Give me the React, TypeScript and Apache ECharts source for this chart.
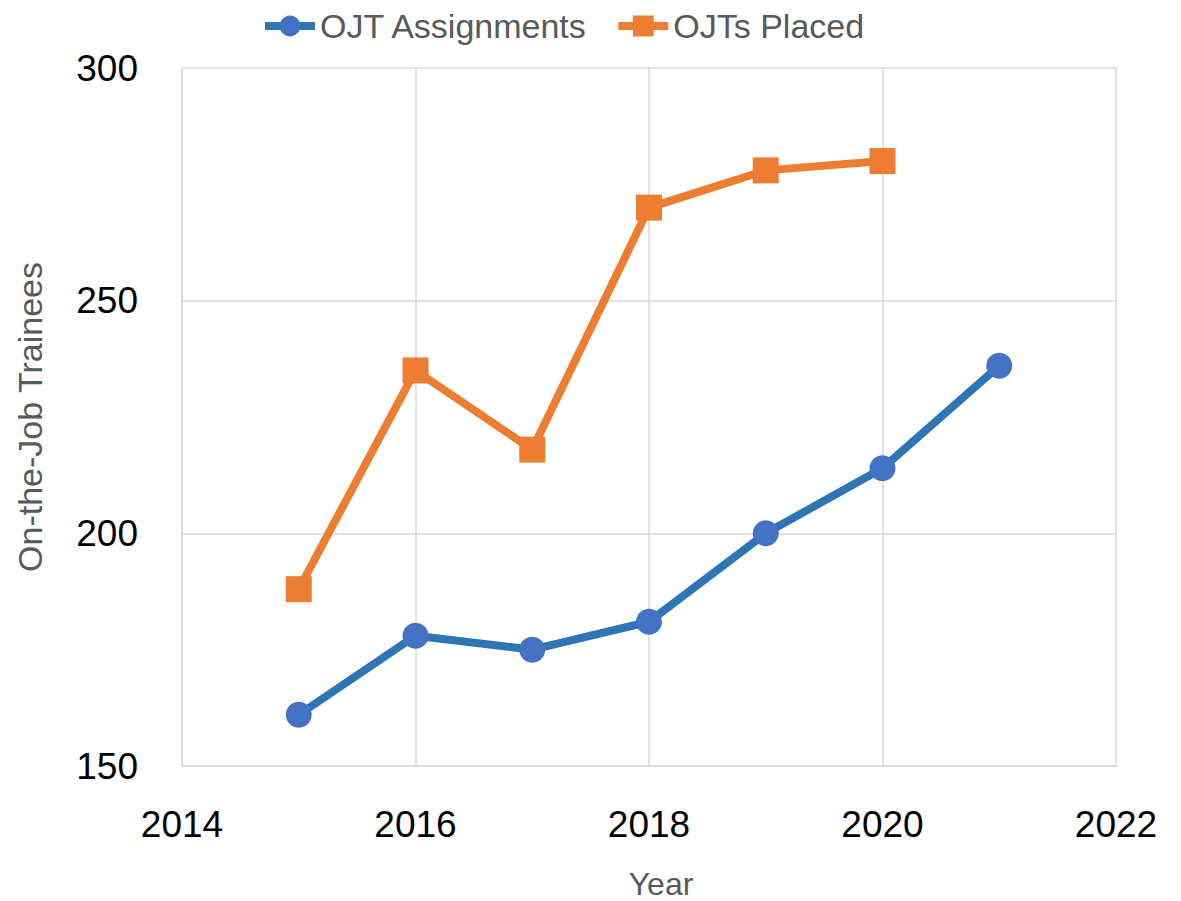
import React, { useEffect, useRef } from "react";
import * as echarts from "echarts";

const years = [2015, 2016, 2017, 2018, 2019, 2020, 2021];
const ojtAssignments = [161, 178, 175, 181, 200, 214, 236];
const ojtsPlaced = [188, 235, 218, 270, 278, 280];
const seriesNames = ["OJT Assignments", "OJTs Placed"];

const FONT = "Liberation Sans";

export default function App() {
  const ref = useRef<HTMLDivElement>(null);
  useEffect(() => {
    const chart = echarts.init(ref.current!, null, { renderer: "svg" });
    chart.setOption({
      animation: false,
      backgroundColor: "#ffffff",
      legend: {
        top: 4,
        left: 256,
        itemWidth: 50,
        itemHeight: 26,
        itemGap: 26,
        textStyle: { fontFamily: FONT, fontSize: 34, color: "#595959" },
        data: [
          { name: seriesNames[0], lineStyle: { width: 8 } },
          { name: seriesNames[1], lineStyle: { width: 8 } },
        ],
      },
      grid: { left: 182, right: 65, top: 68, bottom: 135, containLabel: false, outerBoundsMode: "none" },
      xAxis: {
        type: "value",
        min: 2014,
        max: 2022,
        interval: 2,
        name: "Year",
        nameLocation: "middle",
        nameGap: 102,
        nameTextStyle: { fontFamily: FONT, fontSize: 32, color: "#595959", padding: [0, 0, 0, 24] },
        axisLine: { show: true, lineStyle: { color: "#D9D9D9", width: 1.5 } },
        axisTick: { show: false },
        splitLine: { show: true, lineStyle: { color: "#D9D9D9", width: 1.5 } },
        axisLabel: {
          fontFamily: FONT,
          fontSize: 37,
          color: "#000000",
          margin: 40,
          formatter: (v: number) => String(v),
        },
      },
      yAxis: {
        type: "value",
        min: 150,
        max: 300,
        interval: 50,
        name: "On-the-Job Trainees",
        nameLocation: "middle",
        nameGap: 135,
        nameTextStyle: { fontFamily: FONT, fontSize: 34, color: "#595959" },
        axisLine: { show: true, lineStyle: { color: "#D9D9D9", width: 1.5 } },
        axisTick: { show: false },
        splitLine: { show: true, lineStyle: { color: "#D9D9D9", width: 1.5 } },
        axisLabel: { fontFamily: FONT, fontSize: 37, color: "#000000", margin: 44 },
      },
      series: [
        {
          name: seriesNames[0],
          type: "line",
          data: years.map((y, i) => [y, ojtAssignments[i]]),
          symbol: "circle",
          symbolSize: 26,
          itemStyle: { color: "#4472C4" },
          lineStyle: { color: "#2E75B6", width: 8 },
        },
        {
          name: seriesNames[1],
          type: "line",
          data: years.slice(0, ojtsPlaced.length).map((y, i) => [y, ojtsPlaced[i]]),
          symbol: "rect",
          symbolSize: 26,
          itemStyle: { color: "#ED7D31" },
          lineStyle: { color: "#ED7D31", width: 8 },
        },
      ],
    });
    return () => chart.dispose();
  }, []);
  return (
    <div
      ref={ref}
      style={{ position: "fixed", left: 0, top: 0, width: 1181, height: 901 }}
    />
  );
}
